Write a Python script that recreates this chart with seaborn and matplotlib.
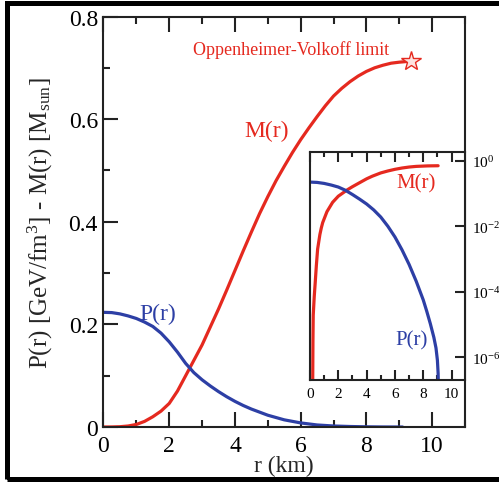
import matplotlib
matplotlib.use("Agg")
import matplotlib.pyplot as plt
import seaborn as sns
from matplotlib.patches import Rectangle
from matplotlib.ticker import MultipleLocator, FixedLocator, LogFormatterSciNotation, NullLocator, FuncFormatter

# main panel data (r in km)
r_mass = [0, 0.25, 0.5, 0.75, 1.0, 1.25, 1.5, 1.75, 2.0, 2.25, 2.5, 2.75, 3.0, 3.25, 3.5,
          3.75, 4.0, 4.25, 4.5, 4.75, 5.0, 5.25, 5.5, 5.75, 6.0, 6.25, 6.5, 6.75, 7.0,
          7.25, 7.5, 7.75, 8.0, 8.25, 8.5, 8.75, 9.0, 9.36]
mass = [0, 0.0001, 0.0006, 0.002, 0.005, 0.011, 0.02, 0.031, 0.046, 0.07, 0.1, 0.13, 0.16,
        0.195, 0.23, 0.267, 0.305, 0.343, 0.38, 0.416, 0.449, 0.48, 0.508, 0.535, 0.56,
        0.583, 0.605, 0.626, 0.645, 0.66, 0.673, 0.684, 0.693, 0.7, 0.705, 0.709, 0.711, 0.713]

r_press = [0, 0.25, 0.5, 0.75, 1.0, 1.25, 1.5, 1.75, 2.0, 2.25, 2.5, 2.75, 3.0, 3.25, 3.5,
           3.75, 4.0, 4.25, 4.5, 4.75, 5.0, 5.5, 6.0, 6.5, 7.0, 7.5, 8.0, 8.5, 9.1]
press = [0.2235, 0.223, 0.2205, 0.2165, 0.2115, 0.2045, 0.196, 0.183, 0.166, 0.146, 0.124,
         0.106, 0.092, 0.08, 0.069, 0.059, 0.05, 0.042, 0.035, 0.029, 0.023, 0.014, 0.008,
         0.004, 0.002, 0.001, 0.0004, 0.0001, 0.0]

# inset data (log scale)
r_mass_in = [0.19, 0.21, 0.23, 0.3, 0.37, 0.45, 0.54, 0.7, 0.8, 0.9, 1.2, 1.6, 2.0, 2.66,
             3.0, 3.5, 4.0, 4.4, 5.0, 5.5, 6.0, 6.5, 7.0, 7.5, 8.3, 9.05]
mass_in = [1e-7, 3.2e-6, 1.9e-5, 7e-5, 1.9e-4, 6.3e-4, 2e-3, 5.6e-3, 8.9e-3, 0.013, 0.028,
           0.054, 0.083, 0.132, 0.162, 0.214, 0.282, 0.339, 0.427, 0.49, 0.55, 0.603,
           0.646, 0.676, 0.70, 0.708]

r_press_in = [0, 0.5, 1.0, 1.5, 2.0, 2.5, 3.0, 3.5, 4.0, 4.5, 5.0, 5.5, 6.0, 6.5, 7.0,
              7.5, 8.0, 8.25, 8.5, 8.75, 8.9, 9.0, 9.05, 9.1]
press_in = [0.224, 0.219, 0.204, 0.182, 0.158, 0.126, 0.0933, 0.0676, 0.0479, 0.0316,
            0.0191, 0.01, 4.7e-3, 1.9e-3, 6.8e-4, 2.1e-4, 5.6e-5, 2.5e-5, 1.05e-5, 4e-6,
            1.9e-6, 8e-7, 3.2e-7, 3.2e-8]

limit_r, limit_m = 9.36, 0.713

RED = "#e5291f"
BLUE = "#2d3fa5"

sns.set_style("ticks")
plt.rcParams["font.family"] = ["Liberation Serif", "DejaVu Serif"]
plt.rcParams["mathtext.fontset"] = "custom"
plt.rcParams["mathtext.rm"] = "Liberation Serif"
plt.rcParams["mathtext.it"] = "Liberation Serif:italic"
plt.rcParams["mathtext.bf"] = "Liberation Serif:bold"

fig = plt.figure(figsize=(4.99, 4.89), dpi=100)
ax = fig.add_axes([0.2074, 0.1247, 0.7245, 0.8395])

sns.lineplot(x=r_mass, y=mass, ax=ax, color=RED, lw=2.3)
sns.lineplot(x=r_press, y=press, ax=ax, color=BLUE, lw=2.3)
ax.plot([limit_r], [limit_m], marker="*", ms=15, mfc="#fde3e0", mec=RED, mew=1.0)

ax.set_xlim(0, 11)
ax.set_ylim(0, 0.8)
ax.xaxis.set_major_locator(MultipleLocator(2))
ax.xaxis.set_minor_locator(MultipleLocator(1))
ax.yaxis.set_major_locator(MultipleLocator(0.2))
ax.yaxis.set_minor_locator(MultipleLocator(0.1))
ax.yaxis.set_major_formatter(FuncFormatter(lambda v, p: "0" if v == 0 else f"{v:.1f}"))
ax.tick_params(which="both", direction="in", top=True, right=False, width=1.5,
               colors="#222222", labelcolor="black", labelsize=17, pad=4)
ax.tick_params(which="major", length=11)
ax.tick_params(which="minor", length=5)
ax.tick_params(axis="x", pad=6)
for s in ax.spines.values():
    s.set_linewidth(1.5)
    s.set_color("#222222")
ax.set_xlabel("r (km)", fontsize=17, labelpad=-1)
ax.set_ylabel("P(r) [GeV/fm$^3$] - M(r) [M$_\\mathrm{sun}$]", fontsize=18)
ax.yaxis.set_label_coords(-0.133, 0.5)

ax.text(2.72, 0.727, "Oppenheimer-Volkoff limit", color=RED, fontsize=13, ha="left", va="baseline")
ax.text(4.97, 0.577, "M(r)", color=RED, fontsize=17, ha="center", va="center")
ax.text(1.64, 0.222, "P(r)", color=BLUE, fontsize=17, ha="center", va="center")

# inset on log scale
axin = fig.add_axes([0.6212, 0.2209, 0.3107, 0.4668])
axin.set_yscale("log")
sns.lineplot(x=r_mass_in, y=mass_in, ax=axin, color=RED, lw=2.3)
sns.lineplot(x=r_press_in, y=press_in, ax=axin, color=BLUE, lw=2.3)
axin.set_xlim(0, 10.95)
axin.set_ylim(2e-7, 1.9)
axin.xaxis.set_major_locator(MultipleLocator(2))
axin.xaxis.set_minor_locator(MultipleLocator(1))
axin.yaxis.set_major_locator(FixedLocator([1e0, 1e-2, 1e-4, 1e-6]))
axin.yaxis.set_minor_locator(NullLocator())
axin.yaxis.set_major_formatter(LogFormatterSciNotation())
axin.yaxis.tick_right()
axin.tick_params(which="both", direction="in", top=True, bottom=True, width=1.5,
                 colors="#222222", labelcolor="black", labelsize=11, pad=5)
axin.tick_params(axis="y", left=False, right=True)
axin.tick_params(which="major", length=7)
axin.tick_params(which="minor", length=3.5)
for s in axin.spines.values():
    s.set_linewidth(1.5)
    s.set_color("#222222")
axin.text(7.46, 0.21, "M(r)", color=RED, fontsize=15, ha="center", va="center")
axin.text(7.2, 3.4e-6, "P(r)", color=BLUE, fontsize=15, ha="center", va="center")

# black frame round the figure
fig.add_artist(Rectangle((0.015, 0.0174), 1.0, 0.9746, transform=fig.transFigure,
                         fill=False, lw=3.6, ec="black"))

fig.savefig("out.png", dpi=100)
